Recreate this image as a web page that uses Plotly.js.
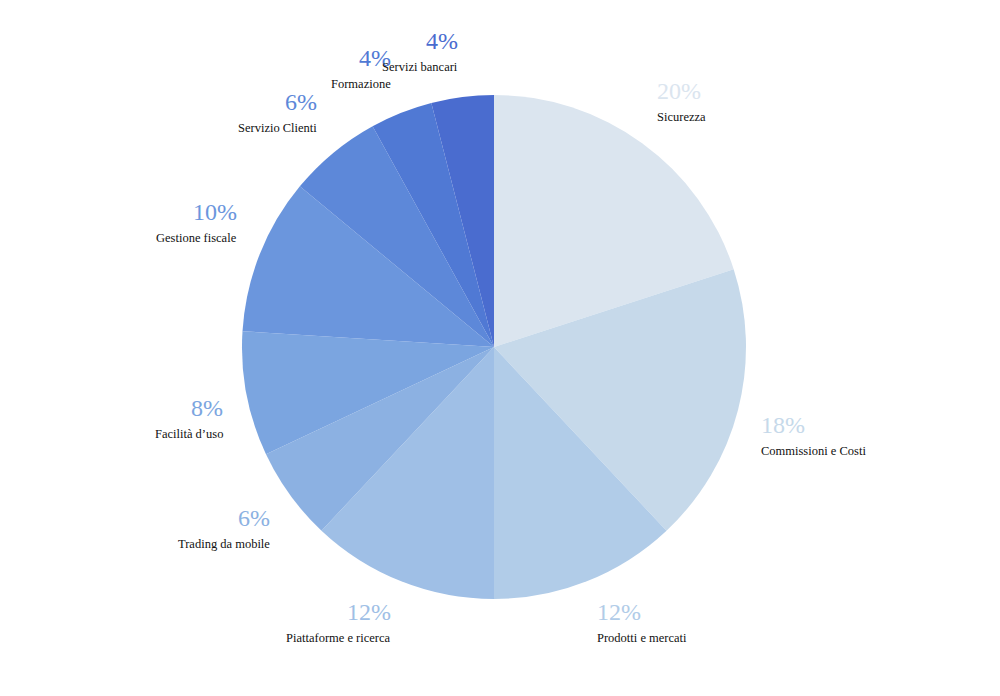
<!DOCTYPE html>
<html>
<head>
<meta charset="utf-8">
<script src="https://cdn.plot.ly/plotly-3.0.1.min.js"></script>
<style>html,body{margin:0;padding:0;background:#fff;}#chart{width:1000px;height:696px;}</style>
</head>
<body>
<div id="chart"></div>
<script>
const categories = ["Sicurezza","Commissioni e Costi","Prodotti e mercati","Piattaforme e ricerca","Trading da mobile","Facilità d’uso","Gestione fiscale","Servizio Clienti","Formazione","Servizi bancari"];
const values = [20,18,12,12,6,8,10,6,4,4];
const colors = ["#dbe5ef","#c6d9ea","#b1cce8","#9fbfe6","#8cb1e2","#7ba5e0","#6b96dd","#5d88d9","#5079d4","#4a6ccf"];

// layout geometry (pixels)
const W = 1000, H = 696;
const CX = 494, CY = 347, R = 252, LABEL_R = 274;
const FONT = "Liberation Serif, Times New Roman, serif";

const trace = {
  type: "pie",
  labels: categories,
  values: values,
  sort: false,
  direction: "clockwise",
  rotation: 0,
  marker: {colors: colors, line: {width: 0}},
  textinfo: "none",
  hoverinfo: "label+percent",
  showlegend: false,
  domain: {x: [(CX - R) / W, (CX + R) / W], y: [1 - (CY + R) / H, 1 - (CY - R) / H]}
};

// label annotations derived from the slice values
const total = values.reduce((a, b) => a + b, 0);
const annotations = [];
let cum = 0;
values.forEach((v, i) => {
  const mid = (cum + v / 2) / total * 2 * Math.PI;
  cum += v;
  const ax = CX + LABEL_R * Math.sin(mid);
  const ay = CY - LABEL_R * Math.cos(mid);
  const right = Math.sin(mid) >= 0;
  const below = Math.cos(mid) < 0;
  const xanchor = right ? "left" : "right";
  const pctText = Math.round(v / total * 100) + "%";
  let pctY, nameY, yanchor;
  if (below) {
    yanchor = "top";
    pctY = ay - 5;
    nameY = pctY + 32;
  } else {
    yanchor = "bottom";
    nameY = ay + 1;
    pctY = nameY - 20;
  }
  annotations.push({
    xref: "paper", yref: "paper", x: ax / W, y: 1 - pctY / H,
    xanchor: xanchor, yanchor: yanchor, showarrow: false,
    text: pctText, align: right ? "left" : "right",
    font: {family: FONT, size: 24, color: colors[i]}
  });
  annotations.push({
    xref: "paper", yref: "paper", x: ax / W, y: 1 - nameY / H,
    xanchor: xanchor, yanchor: yanchor, showarrow: false,
    text: categories[i], align: right ? "left" : "right",
    font: {family: FONT, size: 12.5, color: "#111111"}
  });
});

const layout = {
  width: W, height: H,
  margin: {l: 0, r: 0, t: 0, b: 0},
  paper_bgcolor: "#fff",
  font: {family: FONT},
  showlegend: false,
  annotations: annotations
};

Plotly.newPlot("chart", [trace], layout, {displayModeBar: false});
</script>
</body>
</html>
